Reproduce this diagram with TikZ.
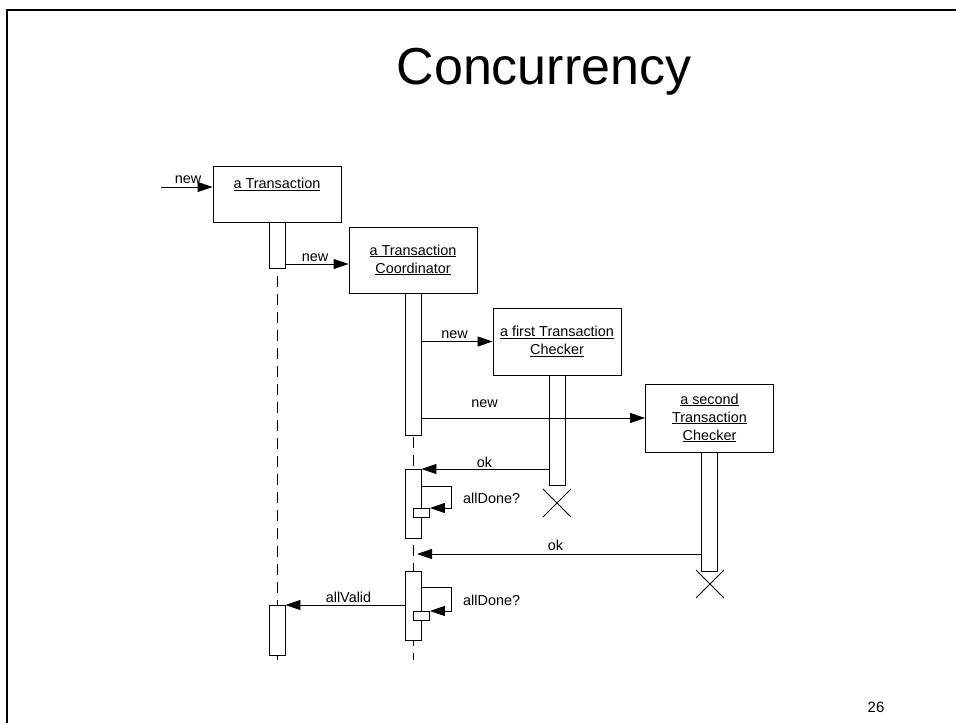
\documentclass[tikz,border=0pt]{standalone}
\usepackage{fontspec}
\setmainfont{Liberation Sans}
\usetikzlibrary{arrows.meta,shapes.misc}
\begin{document}
\begin{tikzpicture}[x=1pt,y=-1pt,
  every node/.style={font=\fontsize{14.4}{18}\selectfont},
  obj/.style={draw, line width=0.9pt, minimum width=128pt, inner sep=0pt, align=center, fill=white},
  bar/.style={draw, line width=0.9pt, fill=white, minimum width=16pt, inner sep=0pt, anchor=north},
  life/.style={line width=0.9pt, dash pattern=on 11pt off 7pt},
  msg/.style={line width=0.9pt, -{Triangle[length=15pt,width=10pt]}},
  lbl/.style={anchor=base, inner sep=0pt},
  kill/.style={draw, cross out, line width=0.9pt, minimum size=27pt, inner sep=0pt}
]
\useasboundingbox (0,0) rectangle (956,723);

% slide frame and title
\draw[line width=2.5pt] (7,723) -- (7,10) -- (956,10);
\node[font=\fontsize{52}{60}\selectfont, anchor=base] (title) at (544,84) {Concurrency};
\node[lbl, font=\fontsize{15}{18}\selectfont] (page) at (876,712) {26};

% objects
\node[obj, minimum height=56pt] (tbox) at (277,194) {\underline{a Transaction}\vphantom{Ag}\\[4pt]};
\node[obj, minimum height=66pt] (cbox) at (413,260) {\underline{a Transaction}\\\underline{Coordinator}};
\node[obj, minimum height=67pt] (fbox) at (557,341.5) {\underline{a first Transaction}\\\underline{Checker}};
\node[obj, minimum height=68pt] (sbox) at (709.5,418) {\underline{a second}\\\underline{Transaction}\\\underline{Checker}};

% lifelines
\draw[life] (tbox.south) -- (277,660);
\draw[life] (cbox.south) -- (413,660);

% activations
\node[bar, minimum height=46pt] (tbar1) at (tbox.south) {};
\node[bar, minimum height=142pt] (cbar1) at (cbox.south) {};
\node[bar, minimum height=110pt] (fbar) at (fbox.south) {};
\node[bar, minimum height=119pt] (sbar) at (sbox.south) {};
\node[bar, minimum height=69pt] (cbar2) at (413,469) {};
\node[bar, minimum height=69pt] (cbar3) at (413,571) {};
\node[bar, minimum height=50pt] (tbar2) at (277,605) {};
\node[bar, minimum height=9pt, anchor=north west] (self1) at (413,508) {};
\node[bar, minimum height=9pt, anchor=north west] (self2) at (413,611) {};

% destruction marks
\node[kill] (x1) at (557,503) {};
\node[kill] (x2) at (710,584) {};

% messages
\coordinate (src) at (161,187);
\draw[msg] (src) -- (tbox.west |- src);
\node[lbl] (m0) at (188,183) {new};

\draw[msg] (tbar1.east |- 0,264) -- (cbox.west |- 0,264);
\node[lbl] (m1) at (315,261) {new};

\draw[msg] (cbar1.east |- fbox.west) -- (fbox.west);
\node[lbl] (m2) at (454.5,338) {new};

\draw[msg] (cbar1.east |- sbox.west) -- (sbox.west);
\node[lbl] (m3) at (484.5,407) {new};

\draw[msg] (fbar.west |- cbar2.north) -- (cbar2.north east);
\node[lbl] (m4) at (484.5,467) {ok};

\draw[msg] (cbar2.east |- 0,486) -| (451,508) -- (self1.north east);
\node[lbl, anchor=base west] (m5) at (463,503) {allDone?};

\coordinate (ok2end) at (417,554);
\draw[msg] (sbar.west |- ok2end) -- (ok2end);
\node[lbl] (m6) at (555.5,550.5) {ok};

\draw[msg] (cbar3.east |- 0,587) -| (451,611) -- (self2.north east);
\node[lbl, anchor=base west] (m7) at (463,605) {allDone?};

\draw[msg] (cbar3.west |- tbar2.north) -- (tbar2.north east);
\node[lbl] (m8) at (348.5,602.7) {allValid};
\end{tikzpicture}
\end{document}
